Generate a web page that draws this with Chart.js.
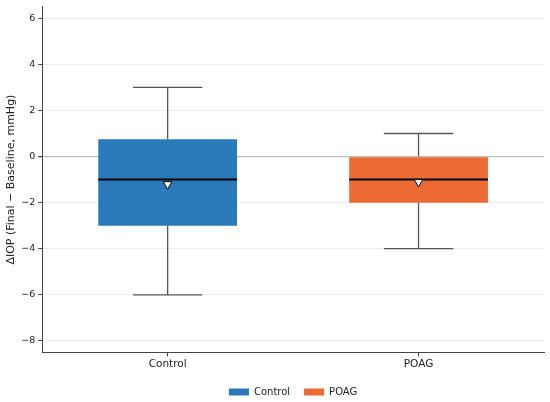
<!DOCTYPE html>
<html>
<head>
<meta charset="utf-8">
<script src="https://cdn.jsdelivr.net/npm/chart.js@4.4.0/dist/chart.umd.min.js"></script>
<style>
html,body{margin:0;padding:0;background:#fff;}
#wrap{width:550px;height:402px;}
</style>
</head>
<body>
<div id="wrap"><canvas id="c" width="550" height="402"></canvas></div>
<script>
const categories = ["Control", "POAG"];
const q1Values = [-3, -2];
const q3Values = [0.75, 0];
const medianValues = [-1, -1];
const whiskerLow = [-6, -4];
const whiskerHigh = [3, 1];
const meanValues = [-1.2, -1.1];
const yTickValues = [-8, -6, -4, -2, 0, 2, 4, 6];
const seriesColors = ["#2a7ab9", "#ec6b35"];

const boxPlugin = {
  id: 'boxparts',
  beforeDatasetsDraw(chart) {
    const ctx = chart.ctx, y = chart.scales.y;
    chart.data.datasets.forEach((ds, di) => {
      const meta = chart.getDatasetMeta(di);
      if (meta.type !== 'bar') return;
      meta.data.forEach((el, i) => {
        if (ds.data[i] == null) return;
        const x = el.x, cap = el.width / 4;
        ctx.save();
        ctx.strokeStyle = '#555';
        ctx.lineWidth = 1.3;
        ctx.beginPath();
        ctx.moveTo(x, y.getPixelForValue(whiskerHigh[i]));
        ctx.lineTo(x, y.getPixelForValue(q3Values[i]));
        ctx.moveTo(x, y.getPixelForValue(q1Values[i]));
        ctx.lineTo(x, y.getPixelForValue(whiskerLow[i]));
        ctx.moveTo(x - cap, y.getPixelForValue(whiskerHigh[i]));
        ctx.lineTo(x + cap, y.getPixelForValue(whiskerHigh[i]));
        ctx.moveTo(x - cap, y.getPixelForValue(whiskerLow[i]));
        ctx.lineTo(x + cap, y.getPixelForValue(whiskerLow[i]));
        ctx.stroke();
        ctx.restore();
      });
    });
  },
  afterDatasetDraw(chart, args) {
    const meta = args.meta;
    if (meta.type !== 'bar') return;
    const ctx = chart.ctx, y = chart.scales.y;
    const ds = chart.data.datasets[args.index];
    meta.data.forEach((el, i) => {
      if (ds.data[i] == null) return;
      const py = y.getPixelForValue(medianValues[i]);
      ctx.save();
      ctx.strokeStyle = '#000';
      ctx.lineWidth = 2;
      ctx.beginPath();
      ctx.moveTo(el.x - el.width / 2, py);
      ctx.lineTo(el.x + el.width / 2, py);
      ctx.stroke();
      ctx.restore();
    });
  }
};

new Chart(document.getElementById('c'), {
  type: 'bar',
  data: {
    labels: categories,
    datasets: [
      {
        label: categories[0],
        data: [[q1Values[0], q3Values[0]], null],
        backgroundColor: seriesColors[0],
        borderWidth: 0,
        order: 1
      },
      {
        label: categories[1],
        data: [null, [q1Values[1], q3Values[1]]],
        backgroundColor: seriesColors[1],
        borderWidth: 0,
        order: 1
      },
      {
        type: 'line',
        label: 'Mean',
        data: meanValues,
        showLine: false,
        pointStyle: 'triangle',
        pointRotation: 180,
        pointRadius: 5,
        pointBackgroundColor: '#fff',
        pointBorderColor: '#000',
        pointBorderWidth: 1,
        order: -1
      }
    ]
  },
  options: {
    responsive: false,
    animation: false,
    devicePixelRatio: 1,
    skipNull: true,
    categoryPercentage: 1,
    barPercentage: 0.553,
    layout: { padding: { top: 0, right: 6, left: 3, bottom: 0 } },
    plugins: {
      tooltip: { enabled: false },
      legend: {
        position: 'bottom',
        fullSize: false,
        maxHeight: 29,
        labels: {
          boxWidth: 20,
          boxHeight: 7,
          padding: 14,
          color: '#222',
          font: { family: 'DejaVu Sans', size: 10 },
          filter: (item) => item.datasetIndex < 2
        }
      }
    },
    scales: {
      x: {
        offset: true,
        grid: { display: true, drawOnChartArea: false, drawTicks: true, tickLength: 4, tickColor: '#444', offset: false },
        border: { display: true, color: '#444', width: 1 },
        ticks: { color: '#222', font: { family: 'DejaVu Sans', size: 10.5 }, padding: 2 }
      },
      y: {
        min: -8.5,
        max: 6.5,
        afterBuildTicks: (scale) => { scale.ticks = yTickValues.map(v => ({ value: v })); },
        grid: {
          color: (c) => (c.tick && c.tick.value === 0) ? '#bdbdbd' : '#ececec',
          lineWidth: (c) => (c.tick && c.tick.value === 0) ? 1.3 : 1,
          tickLength: 4,
          tickColor: '#444'
        },
        border: { display: true, color: '#444', width: 1 },
        ticks: {
          color: '#222',
          font: { family: 'DejaVu Sans', size: 9.5, lineHeight: 0.8 },
          padding: 3,
          callback: (v) => (v < 0 ? '\u2212' + Math.abs(v) : String(v))
        },
        title: {
          display: true,
          text: '\u0394IOP (Final \u2212 Baseline, mmHg)',
          color: '#222',
          font: { family: 'DejaVu Sans', size: 11 },
          padding: { top: 2, bottom: 0 }
        }
      }
    }
  },
  plugins: [boxPlugin]
});
</script>
</body>
</html>
